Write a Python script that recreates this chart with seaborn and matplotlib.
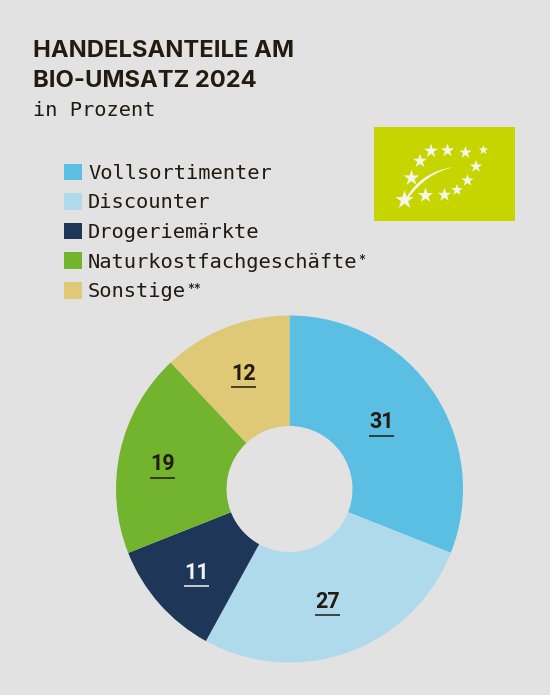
"""Handelsanteile am Bio-Umsatz 2024 als Donut."""

import matplotlib
matplotlib.use("Agg")
import matplotlib.pyplot as plt
from matplotlib.patches import PathPatch, Rectangle
from matplotlib.path import Path
import numpy as np
import seaborn as sns

W, H = 550, 695

CATEGORIES = ["Vollsortimenter", "Discounter", "Drogeriemärkte",
              "Naturkostfachgeschäfte", "Sonstige"]
FOOTMARKS = ["", "", "", "*", "**"]
VALUES = [31, 27, 11, 19, 12]
COLORS = ["#5ABFE2", "#AFDAEB", "#1E3658", "#73B42E", "#DFC876"]
LABEL_COLORS = ["#231A10", "#231A10", "#F2F2F2", "#231A10", "#231A10"]
# Verschiebung der Zahlen in Pixeln, ausgehend von 70 % des Radius
LABEL_SHIFT_X = [-8, -3, -2, -8, -1]
LABEL_SHIFT_Y = [0, 3, -2, 0, 4]

BG = "#E3E2E2"
TEXT = "#231A10"
LOGO_GREEN = "#C6D400"
LOGO_WHITE = "#F4F7E6"

sns.set_theme(style="white")
plt.rcParams["font.family"] = ["Inter", "DejaVu Sans"]

fig = plt.figure(figsize=(W / 100, H / 100), dpi=100, facecolor=BG)
ax = fig.add_axes([0, 0, 1, 1])
ax.set_facecolor(BG)


def py(y):
    # Pixel von oben gezaehlt
    return H - y


# Titel
ax.text(33, py(57), "HANDELSANTEILE AM", fontsize=17.1, fontweight="bold",
        color=TEXT, ha="left", va="baseline")
ax.text(33, py(87), "BIO-UMSATZ 2024", fontsize=17.1, fontweight="bold",
        color=TEXT, ha="left", va="baseline")
ax.text(33, py(116), "in Prozent", fontsize=14.6, family="DejaVu Sans Mono",
        color=TEXT, ha="left", va="baseline")

# Donut
center = (289.5, py(489))
radius = 173.5
wedges, _ = ax.pie(VALUES, colors=COLORS, startangle=90, counterclock=False,
                   center=center, radius=radius, frame=True,
                   wedgeprops={"width": radius - 63, "linewidth": 0})
ax.set_xlim(0, W)
ax.set_ylim(0, H)
ax.set_aspect("equal")
ax.axis("off")

for wedge, val, col, sx, sy in zip(wedges, VALUES, LABEL_COLORS,
                                   LABEL_SHIFT_X, LABEL_SHIFT_Y):
    ang = np.deg2rad((wedge.theta1 + wedge.theta2) / 2)
    x = center[0] + 0.7 * radius * np.cos(ang) + sx
    y = center[1] + 0.7 * radius * np.sin(ang) + sy
    ax.text(x, y - 1.5, str(val), fontsize=15.5, fontweight="bold", family="Roboto",
            color=col, ha="center", va="center")
    ax.plot([x - 12.5, x + 12.5], [y - 15, y - 15], color=col, lw=1.1,
            solid_capstyle="butt")

# Legende
handles = [Rectangle((0, 0), 1, 1, facecolor=c, edgecolor="none") for c in COLORS]
leg = ax.legend(handles, CATEGORIES, loc="upper left",
                bbox_to_anchor=(64, py(163.5)), bbox_transform=ax.transData,
                frameon=False, borderpad=0, borderaxespad=0,
                prop={"family": "DejaVu Sans Mono", "size": 14.7},
                labelcolor=TEXT, handlelength=0.88, handleheight=0.88,
                handletextpad=0.3, labelspacing=0.50)

fig.canvas.draw()
inv = ax.transData.inverted()
for txt, mark in zip(leg.get_texts(), FOOTMARKS):
    if mark:
        box = txt.get_window_extent()
        x0, y0 = inv.transform((box.x1, box.y1))
        ax.text(x0 + 1, y0 - 1, mark, fontsize=10, color=TEXT, ha="left",
                va="top", linespacing=1)

# Bio-Siegel
ax.add_patch(Rectangle((374, py(221)), 141, 94, facecolor=LOGO_GREEN,
                       edgecolor="none", zorder=3))
star_x = [431, 447.5, 465.5, 483.5, 476, 467.5, 457, 444.5, 425.5, 404.5, 411.5, 420]
star_y = [151, 150.5, 152.5, 150, 166.5, 180.5, 190, 195, 195.5, 200, 178, 161]
star_s = [115, 105, 90, 55, 90, 90, 80, 105, 135, 200, 145, 115]
ax.scatter(star_x, [py(v) for v in star_y], s=star_s, marker="*", color=LOGO_WHITE,
           linewidths=0, zorder=4)
leaf = Path([(406, py(198)), (422, py(171)), (454, py(167)),
             (426, py(173.5)), (408.5, py(198)), (406, py(198))],
            [Path.MOVETO, Path.CURVE3, Path.CURVE3, Path.CURVE3, Path.CURVE3, Path.CLOSEPOLY])
ax.add_patch(PathPatch(leaf, facecolor=LOGO_WHITE, edgecolor="none", zorder=4))

fig.savefig("out.png", dpi=100, facecolor=BG)
